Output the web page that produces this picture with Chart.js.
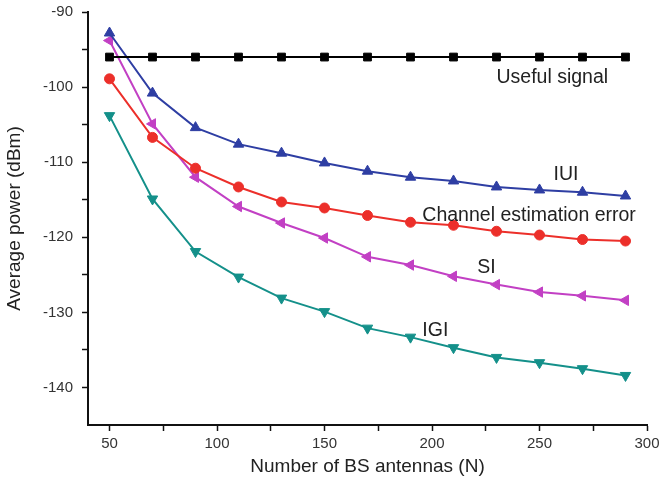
<!DOCTYPE html>
<html>
<head>
<meta charset="utf-8">
<script src="https://cdn.jsdelivr.net/npm/chart.js@4.4.1/dist/chart.umd.min.js"></script>
<style>
  html, body { margin: 0; padding: 0; background: #fff; }
  #wrap { width: 661px; height: 480px; position: relative; }
</style>
</head>
<body>
<div id="wrap"><canvas id="chart"></canvas></div>
<script>
// Number of BS antennas
const antennas = [50, 70, 90, 110, 130, 150, 170, 190, 210, 230, 250, 270, 290];

// Average power (dBm) per curve
const usefulSignal = [-96, -96, -96, -96, -96, -96, -96, -96, -96, -96, -96, -96, -96];
const iui = [-92.8, -100.8, -105.4, -107.6, -108.8, -110.1, -111.2, -112.0, -112.5, -113.3, -113.7, -114.0, -114.5];
const channelErr = [-98.9, -106.7, -110.8, -113.3, -115.3, -116.1, -117.1, -118.0, -118.4, -119.2, -119.7, -120.3, -120.5];
const si = [-93.8, -104.9, -112.0, -115.9, -118.1, -120.1, -122.6, -123.7, -125.2, -126.3, -127.3, -127.8, -128.4];
const igi = [-103.8, -114.9, -121.9, -125.3, -128.1, -129.9, -132.1, -133.3, -134.7, -136.0, -136.7, -137.5, -138.4];

// tick values (majors get labels)
const xTicks = [50, 75, 100, 125, 150, 175, 200, 225, 250, 275, 300];
const yTicks = [-140, -135, -130, -125, -120, -115, -110, -105, -100, -95, -90];

// curve labels placed in data units
const curveLabels = [
    { text: 'Useful signal', x: 230, y: -98.8 },
    { text: 'IUI', x: 256.5, y: -111.7 },
    { text: 'Channel estimation error', x: 195.5, y: -117.1 },
    { text: 'SI', x: 221, y: -124.1 },
    { text: 'IGI', x: 195.5, y: -132.4 }
];

const FONT = '"Liberation Sans", Arial, sans-serif';

function toPoints(values) {
    return antennas.map((x, i) => ({ x: x, y: values[i] }));
}

function series(label, values, color, style, rotation, radius) {
    return {
        label: label,
        data: toPoints(values),
        borderColor: color,
        backgroundColor: color,
        borderWidth: 2,
        pointStyle: style,
        pointRotation: rotation,
        pointRadius: radius,
        pointBorderWidth: 1,
        tension: 0
    };
}

const labelPlugin = {
    id: 'curveLabels',
    afterDatasetsDraw(chart) {
        const ctx = chart.ctx;
        const xs = chart.scales.x, ys = chart.scales.y;
        ctx.save();
        ctx.font = '19.5px ' + FONT;
        ctx.fillStyle = '#222';
        ctx.textAlign = 'left';
        ctx.textBaseline = 'middle';
        curveLabels.forEach(l => {
            ctx.fillText(l.text, xs.getPixelForValue(l.x), ys.getPixelForValue(l.y));
        });
        ctx.restore();
    }
};

function initChart() {
    const ctx = document.getElementById('chart').getContext('2d');
    new Chart(ctx, {
        type: 'line',
        data: {
            datasets: [
                series('Useful signal', usefulSignal, '#000000', 'rect', 0, 5.5),
                series('IUI', iui, '#2e3ea3', 'triangle', 0, 6),
                series('Channel estimation error', channelErr, '#ec2f2a', 'circle', 0, 5),
                series('SI', si, '#c240c4', 'triangle', -90, 6),
                series('IGI', igi, '#14908a', 'triangle', 180, 6)
            ]
        },
        options: {
            responsive: true,
            maintainAspectRatio: false,
            animation: false,
            layout: { padding: { left: 0, right: 14, top: 12, bottom: 0 } },
            plugins: {
                legend: { display: false },
                tooltip: { enabled: false }
            },
            scales: {
                x: {
                    type: 'linear',
                    min: 40,
                    max: 300,
                    afterBuildTicks: s => { s.ticks = xTicks.map(v => ({ value: v })); },
                    afterFit: s => { s.height = 55; s.paddingLeft = 0; s.paddingRight = 0; },
                    border: { display: true, color: '#111', width: 2 },
                    grid: { drawOnChartArea: false, drawTicks: true, tickLength: 6, tickColor: '#111', tickWidth: 1.5 },
                    ticks: {
                        autoSkip: false,
                        maxRotation: 0,
                        padding: 4,
                        color: '#333',
                        font: { family: FONT, size: 15 },
                        callback: v => (v % 50 === 0 ? v : '')
                    },
                    title: {
                        display: true,
                        text: 'Number of BS antennas (N)',
                        color: '#222',
                        font: { family: FONT, size: 19 },
                        padding: { top: 0, bottom: 2 }
                    }
                },
                y: {
                    min: -145,
                    max: -90,
                    afterBuildTicks: s => { s.ticks = yTicks.map(v => ({ value: v })); },
                    afterFit: s => { s.width = 88; s.paddingTop = 0; s.paddingBottom = 0; },
                    border: { display: true, color: '#111', width: 2 },
                    grid: { drawOnChartArea: false, drawTicks: true, tickLength: 6, tickColor: '#111', tickWidth: 1.5 },
                    ticks: {
                        autoSkip: false,
                        padding: 9,
                        color: '#333',
                        font: { family: FONT, size: 15 },
                        callback: v => (v % 10 === 0 ? v : '')
                    },
                    title: {
                        display: true,
                        text: 'Average power (dBm)',
                        color: '#222',
                        font: { family: FONT, size: 19 },
                        padding: { top: 3, bottom: 0 }
                    }
                }
            }
        },
        plugins: [labelPlugin]
    });
}

document.addEventListener('DOMContentLoaded', initChart);
</script>
</body>
</html>
